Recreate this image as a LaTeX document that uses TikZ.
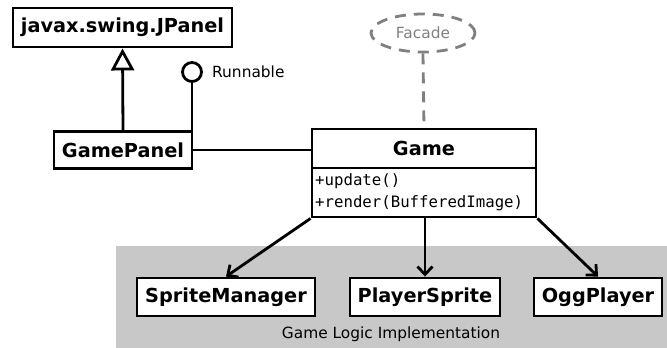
\documentclass[tikz,border=0pt]{standalone}
\usepackage{fontspec}
\setmainfont{DejaVu Sans}
\newfontfamily\monof{DejaVu Sans Mono}
\usetikzlibrary{arrows.meta,shapes.geometric}
\definecolor{bggray}{HTML}{C8C8C8}
\definecolor{fgray}{HTML}{808080}
\begin{document}
\begin{tikzpicture}[x=1pt,y=-1pt,
  cls/.style={draw,line width=2.9pt,fill=white,inner sep=0pt,
    font=\fontsize{19.3}{23}\selectfont\bfseries},
  lbl/.style={inner sep=0pt,font=\fontsize{15.4}{18}\selectfont},
  mth/.style={inner sep=0pt,anchor=west,font=\monof\fontsize{15.7}{18}\selectfont},
  conn/.style={line width=2.8pt},
  arr/.style={conn,-{Straight Barb[length=8pt,width=15pt]}},
  gdash/.style={line width=2.8pt,draw=fgray,dash pattern=on 11pt off 8pt}]
\useasboundingbox (0,0) rectangle (667,348);
\fill[bggray] (116,246) rectangle (667,348);
\node[lbl] (gli) at (391,334) {Game Logic Implementation};

\node[cls,minimum width=219pt,minimum height=39pt] (jpanel) at (122.5,27.5) {javax.swing.JPanel};
\node[cls,minimum width=138pt,minimum height=37pt] (gamepanel) at (123,150) {GamePanel};
\node[draw,circle,line width=2.8pt,minimum size=19pt,inner sep=0pt] (runnable) at (192,72) {};
\node[lbl,anchor=west] (runlbl) at (212,72) {Runnable};

\node[ellipse,gdash,text=fgray,lbl,minimum width=104pt,minimum height=38pt] (facade) at (423,33) {Facade};

\node[cls,minimum width=224pt,minimum height=39pt] (game) at (424,148.5) {Game};
\node[draw,line width=2.9pt,fill=white,inner sep=0pt,minimum width=224pt,minimum height=49pt] (gamem) at (424,192.5) {};
\node[mth] (m1) at (315,181) {+update()};
\node[mth] (m2) at (315,203) {+render(BufferedImage)};

\node[cls,minimum width=178pt,minimum height=38pt] (sm) at (226,297) {SpriteManager};
\node[cls,minimum width=150pt,minimum height=38pt] (ps) at (425,297) {PlayerSprite};
\node[cls,minimum width=128pt,minimum height=38pt] (ogg) at (598,297) {OggPlayer};

\draw[conn,-{Triangle[open,length=22pt,width=23pt]}] (gamepanel.north) -- (jpanel.south);
\draw[conn] (runnable.south) -- (runnable.south |- gamepanel.north);
\draw[conn] (gamepanel.east) -- (gamepanel.east -| game.west);
\draw[gdash] (facade.south) -- (game.north);
\draw[arr] (gamem.south west) -- (sm.north);
\draw[arr] (ps.north |- gamem.south) -- (ps.north);
\draw[arr] (gamem.south east) -- (ogg.north);
\end{tikzpicture}
\end{document}
